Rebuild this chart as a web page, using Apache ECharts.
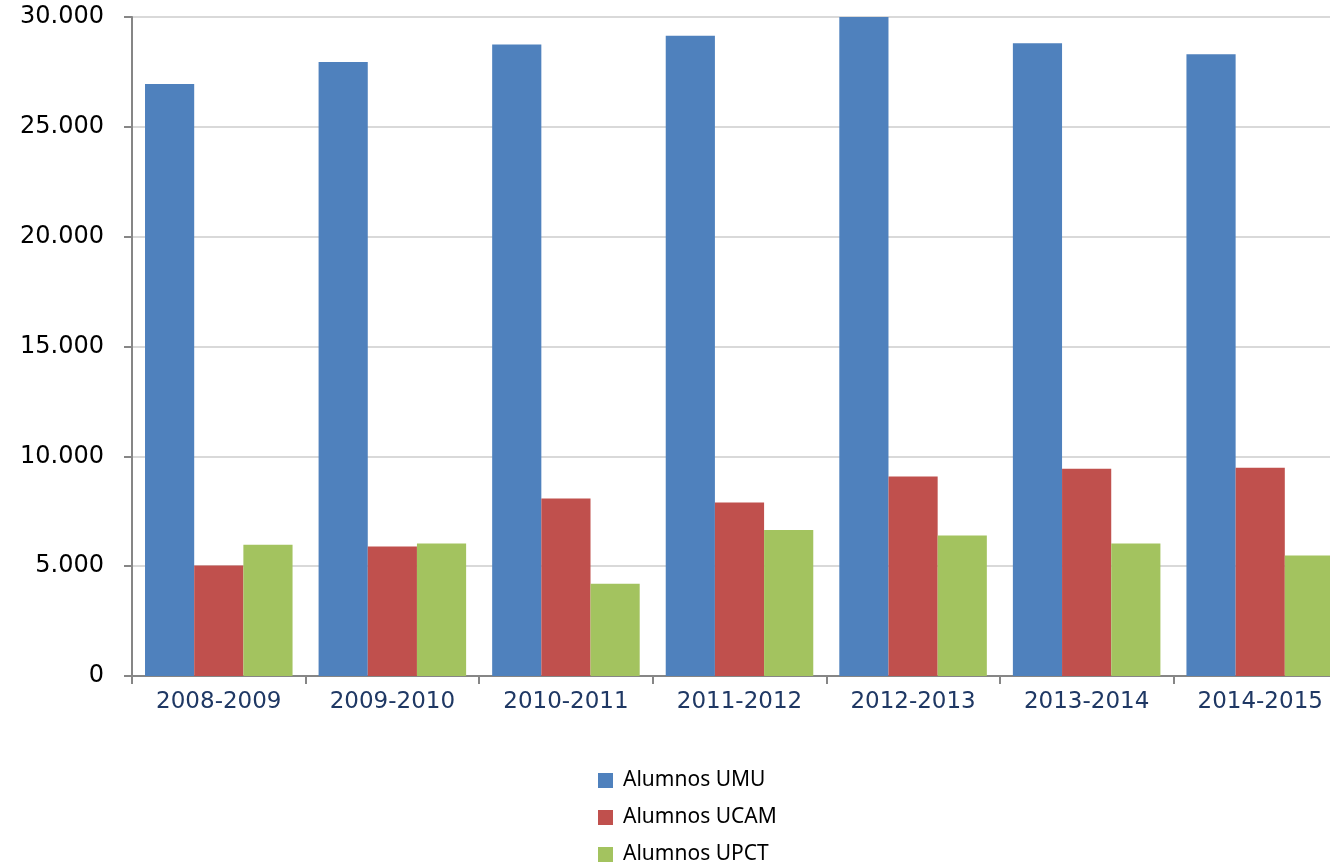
<!DOCTYPE html>
<html>
<head>
<meta charset="utf-8">
<script src="https://cdn.jsdelivr.net/npm/echarts@6/dist/echarts.min.js"></script>
<style>
  html, body { margin: 0; padding: 0; background: #fff; overflow: hidden; }
  /* el grafico original queda cortado por la derecha y por abajo */
  #chart { width: 1350px; height: 900px; }
</style>
</head>
<body>
<div id="chart"></div>
<script>
// cursos academicos
const categories = ['2008-2009', '2009-2010', '2010-2011', '2011-2012', '2012-2013', '2013-2014', '2014-2015']
const alumnosUMU = [26950, 27950, 28750, 29150, 30000, 28800, 28300]
const alumnosUCAM = [5030, 5900, 8080, 7900, 9080, 9430, 9480]
const alumnosUPCT = [5970, 6030, 4200, 6650, 6400, 6030, 5480]
const yTicks = { min: 0, max: 30000, interval: 5000 }

// 30000 -> "30.000"
function fmtMiles(v) {
  return String(v).replace(/\B(?=(\d{3})+(?!\d))/g, '.')
}

const chart = echarts.init(document.getElementById('chart'))

chart.setOption({
  animation: false,
  grid: {
    left: 132,
    top: 17,
    width: 1215,
    height: 659
  },
  legend: {
    orient: 'vertical',
    left: 598,
    top: 770,
    padding: 0,
    itemWidth: 15,
    itemHeight: 15,
    itemGap: 16,
    icon: 'rect',
    textStyle: {
      fontFamily: 'Noto Sans',
      fontSize: 21,
      lineHeight: 21,
      padding: [0, 0, 0, 5],
      color: '#000'
    },
    data: ['Alumnos UMU', 'Alumnos UCAM', 'Alumnos UPCT']
  },
  xAxis: {
    type: 'category',
    data: categories,
    axisLine: { lineStyle: { color: '#868686', width: 2 } },
    axisTick: { show: true, length: 8, lineStyle: { color: '#868686', width: 2 } },
    axisLabel: {
      margin: 15,
      fontFamily: 'DejaVu Sans',
      fontSize: 23,
      color: '#1F3864'
    }
  },
  yAxis: {
    type: 'value',
    min: yTicks.min,
    max: yTicks.max,
    interval: yTicks.interval,
    axisLine: { show: true, lineStyle: { color: '#868686', width: 2 } },
    axisTick: { show: true, length: 8, lineStyle: { color: '#868686', width: 2 } },
    splitLine: { lineStyle: { color: '#D9D9D9', width: 2 } },
    axisLabel: {
      margin: 28,
      fontFamily: 'DejaVu Sans',
      fontSize: 24,
      color: '#000',
      formatter: fmtMiles
    }
  },
  series: [
    {
      name: 'Alumnos UMU',
      type: 'bar',
      data: alumnosUMU,
      color: '#4F81BD',
      barGap: '0%',
      barCategoryGap: '15%'
    },
    {
      name: 'Alumnos UCAM',
      type: 'bar',
      data: alumnosUCAM,
      color: '#C0504D'
    },
    {
      name: 'Alumnos UPCT',
      type: 'bar',
      data: alumnosUPCT,
      color: '#A3C35F'
    }
  ]
})
</script>
</body>
</html>
